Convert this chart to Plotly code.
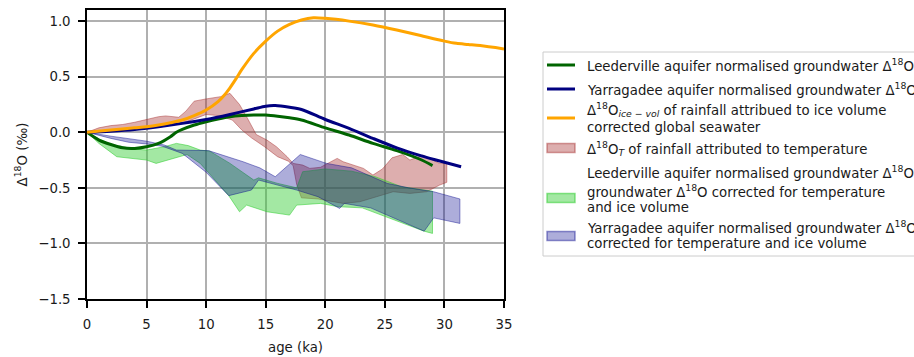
import plotly.graph_objects as go

# ---- data (age in ka, delta-18O anomaly in permil) ----
leed_age = [0, 1, 2, 3, 4, 5, 6, 7, 7.5, 8, 9, 10, 11, 12, 13, 14, 15, 16, 17, 18, 20, 22, 24, 26, 28, 29]
leed_d18o = [0, -0.07, -0.11, -0.14, -0.145, -0.13, -0.1, -0.04, 0.0, 0.025, 0.065, 0.095, 0.12, 0.14,
             0.15, 0.155, 0.155, 0.145, 0.13, 0.11, 0.04, -0.025, -0.1, -0.165, -0.245, -0.3]

yarr_age = [0, 2, 4, 6, 8, 10, 12, 14, 15, 15.8, 17, 18, 20, 22, 24, 26, 28, 30, 31.4]
yarr_d18o = [0, 0.01, 0.025, 0.05, 0.08, 0.115, 0.16, 0.21, 0.235, 0.24, 0.225, 0.205, 0.115, 0.035,
             -0.055, -0.14, -0.21, -0.27, -0.31]

ice_age = [0, 2, 4, 5, 6, 7, 8, 9, 10, 11, 11.5, 12, 12.5, 13, 14, 15, 16, 17, 18, 19, 20, 22, 24, 26,
           28, 30, 31, 32, 33, 35]
ice_d18o = [0, 0.02, 0.04, 0.05, 0.065, 0.085, 0.11, 0.15, 0.2, 0.275, 0.33, 0.4, 0.48, 0.565, 0.71,
            0.82, 0.91, 0.97, 1.01, 1.03, 1.025, 1.0, 0.965, 0.92, 0.87, 0.82, 0.8, 0.79, 0.78, 0.75]

# temperature component (upper / lower envelope)
temp_up_age = [0, 1, 2, 3, 4, 5, 6, 6.6, 7.7, 8.3, 9, 10, 11.2, 12, 12.8, 13.5, 14.2, 15.1, 15.9, 16.8,
               17.3, 18.1, 18.7, 19.6, 21, 21.5, 22.3, 23.2, 24, 24.8, 25.6, 26.5, 27.1, 28.2, 29,
               29.6, 30.2]
temp_up = [0, 0.04, 0.06, 0.07, 0.09, 0.115, 0.14, 0.147, 0.135, 0.19, 0.28, 0.3, 0.32, 0.35, 0.25,
           0.12, -0.02, -0.07, -0.13, -0.22, -0.28, -0.295, -0.325, -0.315, -0.235, -0.265, -0.295,
           -0.325, -0.385, -0.33, -0.23, -0.2, -0.25, -0.205, -0.25, -0.28, -0.28]
temp_lo_age = [0, 2, 4, 6, 8, 9, 10, 11, 12.2, 13, 13.8, 14.9, 16, 16.9, 17.3, 17.6, 18.0, 19.4, 20.1,
               21.5, 22.9, 24.3, 25.7, 27.1, 28.5, 29.6, 30.2]
temp_lo = [0, 0.01, 0.025, 0.045, 0.08, 0.12, 0.16, 0.15, 0.11, 0.02, -0.05, -0.13, -0.22, -0.26,
           -0.3, -0.47, -0.59, -0.6, -0.61, -0.64, -0.625, -0.58, -0.535, -0.55, -0.535, -0.475, -0.45]

# Leederville corrected groundwater envelope
leed_up_age = [0, 1, 2, 3, 4, 5, 6.5, 7.5, 8.5, 9.5, 10.3, 12, 14, 14.4, 16, 17.6, 18.1, 20, 22.2,
               24.2, 26.4, 29]
leed_up = [0, -0.06, -0.11, -0.13, -0.15, -0.16, -0.13, -0.1, -0.12, -0.16, -0.17, -0.28, -0.43,
           -0.41, -0.46, -0.5, -0.355, -0.33, -0.35, -0.4, -0.49, -0.53]
leed_lo_age = [0, 1, 2.5, 5, 5.8, 7.2, 8.4, 9.5, 10.5, 11.9, 12.8, 13.4, 15.1, 17, 17.6, 19.6, 21.1,
               23.1, 25, 28.3, 29]
leed_lo = [0, -0.1, -0.22, -0.25, -0.28, -0.24, -0.2, -0.28, -0.4, -0.57, -0.715, -0.655, -0.715,
           -0.745, -0.655, -0.64, -0.67, -0.68, -0.76, -0.89, -0.91]

# Yarragadee corrected groundwater envelope
yarr_up_age = [0, 2, 5, 6.5, 7.5, 10.2, 13.1, 14.5, 15.8, 17.9, 20.1, 22.2, 25.2, 27, 29.1, 31.3]
yarr_up = [0, -0.035, -0.08, -0.115, -0.16, -0.165, -0.265, -0.32, -0.4, -0.2, -0.28, -0.32, -0.46,
           -0.5, -0.535, -0.6]
yarr_lo_age = [0, 2, 3.5, 5, 6.3, 8, 10, 11.9, 13.8, 14.4, 17.6, 19.4, 21.2, 21.6, 23.8, 25.7, 28.3,
               29.1, 31.3]
yarr_lo = [0, -0.055, -0.09, -0.105, -0.125, -0.19, -0.36, -0.57, -0.52, -0.43, -0.52, -0.58, -0.685,
           -0.64, -0.68, -0.77, -0.89, -0.77, -0.82]

x_ticks = [0, 5, 10, 15, 20, 25, 30, 35]
y_ticks = [-1.5, -1.0, -0.5, 0.0, 0.5, 1.0]

FONT = "DejaVu Sans"
FS = 13.3
TXT = "#1a1a1a"

# ---- styles ----
RED_FILL, RED_EDGE = "rgba(165,42,42,0.38)", "rgba(165,42,42,0.45)"
GRN_FILL, GRN_EDGE = "rgba(50,205,50,0.45)", "rgba(50,205,50,0.55)"
BLU_FILL, BLU_EDGE = "rgba(0,0,139,0.32)", "rgba(0,0,139,0.42)"
C_LEED, C_YARR, C_ICE = "#006400", "#000080", "#FFA500"

fig = go.Figure()


def band(x_up, y_up, x_lo, y_lo, fill, edge):
    fig.add_trace(go.Scatter(
        x=list(x_up) + list(reversed(x_lo)),
        y=list(y_up) + list(reversed(y_lo)),
        fill="toself", fillcolor=fill, mode="lines",
        line=dict(color=edge, width=1), hoverinfo="skip", showlegend=False))


band(temp_up_age, temp_up, temp_lo_age, temp_lo, RED_FILL, RED_EDGE)
band(leed_up_age, leed_up, leed_lo_age, leed_lo, GRN_FILL, GRN_EDGE)
band(yarr_up_age, yarr_up, yarr_lo_age, yarr_lo, BLU_FILL, BLU_EDGE)

for xs, ys, c in [(leed_age, leed_d18o, C_LEED), (yarr_age, yarr_d18o, C_YARR), (ice_age, ice_d18o, C_ICE)]:
    fig.add_trace(go.Scatter(x=xs, y=ys, mode="lines",
                             line=dict(color=c, width=3, shape="spline", smoothing=0.8),
                             showlegend=False))

axis_common = dict(showline=True, linecolor="black", linewidth=1.5, mirror=True,
                   showgrid=True, gridcolor="#b0b0b0", gridwidth=1.5, zeroline=False,
                   ticks="outside", ticklen=7, tickwidth=1.5, tickcolor="black",
                   tickfont=dict(family=FONT, size=FS, color=TXT))

fig.update_xaxes(range=[0, 35], tickvals=x_ticks, ticklabelstandoff=5,
                 title=dict(text="age (ka)", font=dict(family=FONT, size=FS, color=TXT), standoff=12),
                 **axis_common)
fig.update_yaxes(range=[-1.5, 1.1], tickvals=y_ticks, tickformat=".1f", ticklabelstandoff=5,
                 title=dict(text="Δ<sup>18</sup>O (‰)", font=dict(family=FONT, size=FS, color=TXT),
                            standoff=8),
                 **axis_common)

# ---- legend drawn in paper coordinates ----
L, R, T, B = 87, 504, 10, 299   # plot area in pixels
W, H = 914, 357


def px(xp):
    return (xp - L) / (R - L)


def py(yp):
    return (B - yp) / (B - T)


shapes = [dict(type="rect", xref="paper", yref="paper", x0=px(543), x1=px(935), y0=py(52), y1=py(256),
               line=dict(color="#cccccc", width=1), fillcolor="white", layer="above")]
annotations = []

h0, h1, tx = 547, 575, 585


def handle_line(y, color):
    shapes.append(dict(type="line", xref="paper", yref="paper", x0=px(h0), x1=px(h1), y0=py(y), y1=py(y),
                       line=dict(color=color, width=3), layer="above"))


def handle_patch(y, fill, edge):
    shapes.append(dict(type="rect", xref="paper", yref="paper", x0=px(h0), x1=px(h1), y0=py(y + 4.5),
                       y1=py(y - 4.5), line=dict(color=edge, width=1.5), fillcolor=fill, layer="above"))


def label(y, text):
    annotations.append(dict(xref="paper", yref="paper", x=px(tx), y=py(y), text=text, showarrow=False,
                            xanchor="left", yanchor="middle",
                            font=dict(family=FONT, size=FS, color=TXT)))


handle_line(65, C_LEED)
label(65, "Leederville aquifer normalised groundwater Δ<sup>18</sup>O")
handle_line(89, C_YARR)
label(89, "Yarragadee aquifer normalised groundwater Δ<sup>18</sup>O")
handle_line(118, C_ICE)
label(110, "Δ<sup>18</sup>O<sub><i>ice − vol</i></sub> of rainfall attribued to ice volume")
label(127, "corrected global seawater")
handle_patch(148, RED_FILL, RED_EDGE)
label(148, "Δ<sup>18</sup>O<sub><i>T</i></sub> of rainfall attributed to temperature")
handle_patch(198, GRN_FILL, GRN_EDGE)
label(172, "Leederville aquifer normalised groundwater Δ<sup>18</sup>O")
label(191, "groundwater Δ<sup>18</sup>O corrected for temperature")
label(207, "and ice volume")
handle_patch(236, BLU_FILL, BLU_EDGE)
label(227, "Yarragadee aquifer normalised groundwater Δ<sup>18</sup>O")
label(243, "corrected for temperature and ice volume")

fig.update_layout(width=W, height=H, margin=dict(l=L, r=W - R, t=T, b=H - B, autoexpand=False),
                  paper_bgcolor="white", plot_bgcolor="white", showlegend=False,
                  shapes=shapes, annotations=annotations,
                  font=dict(family=FONT, size=FS, color=TXT))

fig.write_html("out.html")
